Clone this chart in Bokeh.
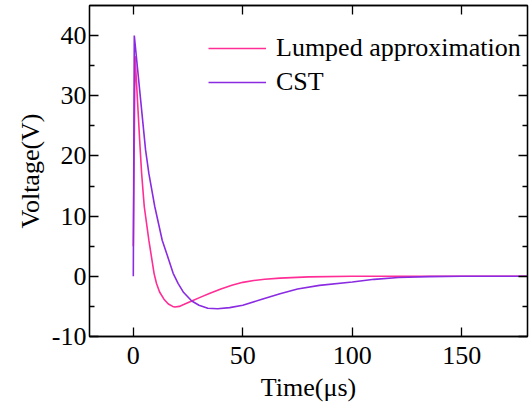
from bokeh.plotting import figure
from bokeh.models import Range1d, FixedTicker, LinearAxis, Legend, LegendItem
from bokeh.embed import file_html
from bokeh.resources import INLINE

# ---- data ----
lumped_t = [0, 0.8, 3.0, 3.8, 5.0, 7.1, 9.5, 10.6, 12, 14, 16, 18, 19, 21, 23, 26.7, 30.5, 35, 40, 45, 50, 55, 60, 67, 80, 100, 130, 180]
lumped_v = [5, 36.6, 22.0, 17.1, 11.6, 6.0, 0.45, -1.2, -2.6, -3.8, -4.6, -5.0, -5.1, -5.0, -4.7, -4.1, -3.5, -2.8, -2.1, -1.5, -1.0, -0.7, -0.5, -0.3, -0.1, 0.0, 0.0, 0.0]

cst_t = [0, 0.45, 5.6, 7.1, 9.8, 13.2, 15.5, 18.2, 20.5, 23, 26.7, 30, 34, 38.5, 44, 50, 58, 67, 75, 85, 100, 110, 121, 135, 150, 180]
cst_v = [0, 40.0, 21.0, 17.1, 11.6, 6.0, 3.5, 0.5, -1.2, -2.7, -4.1, -4.8, -5.3, -5.4, -5.2, -4.8, -3.9, -2.9, -2.1, -1.5, -0.95, -0.5, -0.2, -0.05, 0.0, 0.0]

x_ticks = [0, 50, 100, 150]
y_ticks = [-10, 0, 10, 20, 30, 40]
y_tick_labels = ["-10", "0", "10", "20", "30", "40"]
y_minor = [-5, 5, 15, 25, 35]

series_names = ["Lumped approximation", "CST"]
colors = ["#ff2d95", "#8a2be2"]

FONT = "Liberation Serif"
FS = "26px"

p = figure(width=530, height=408, output_backend="svg", toolbar_location=None,
           x_range=Range1d(-20, 180), y_range=Range1d(-10, 45),
           min_border_left=89, min_border_right=3, min_border_top=5, min_border_bottom=72)

p.grid.visible = False
p.outline_line_color = "black"
p.outline_line_width = 1.3
p.background_fill_color = "white"
p.border_fill_color = "white"

r1 = p.line(lumped_t, lumped_v, line_color=colors[0], line_width=1.6)
r2 = p.line(cst_t, cst_v, line_color=colors[1], line_width=1.6)

def style_axis(ax, show_labels):
    ax.axis_line_color = "black"
    ax.axis_line_width = 1.3
    ax.major_tick_in = 9
    ax.major_tick_out = 0
    ax.minor_tick_in = 5
    ax.minor_tick_out = 0
    ax.major_tick_line_color = "black"
    ax.minor_tick_line_color = "black"
    ax.major_tick_line_width = 1.3
    ax.minor_tick_line_width = 1.3
    if show_labels:
        ax.major_label_text_font = FONT
        ax.major_label_text_font_size = FS
        ax.major_label_text_color = "black"
        ax.axis_label_text_font = FONT
        ax.axis_label_text_font_size = FS
        ax.axis_label_text_font_style = "normal"
        ax.axis_label_text_color = "black"
    else:
        ax.major_label_text_color = None
        ax.major_label_standoff = 0
        ax.axis_label = None

xa = p.xaxis[0]
xa.ticker = FixedTicker(ticks=x_ticks, minor_ticks=[])
xa.axis_label = "Time(μs)"
style_axis(xa, True)
xa.major_label_standoff = 10
xa.axis_label_standoff = 6

ya = p.yaxis[0]
ya.ticker = FixedTicker(ticks=y_ticks, minor_ticks=y_minor)
ya.major_label_overrides = dict(zip(y_ticks, y_tick_labels))
ya.axis_label = "Voltage(V)"
style_axis(ya, True)
ya.major_label_standoff = 3
ya.axis_label_standoff = 4

top = LinearAxis(ticker=FixedTicker(ticks=x_ticks, minor_ticks=[]))
style_axis(top, False)
p.add_layout(top, "above")

right = LinearAxis(ticker=FixedTicker(ticks=y_ticks, minor_ticks=y_minor))
style_axis(right, False)
p.add_layout(right, "right")

legend = Legend(items=[LegendItem(label=series_names[0], renderers=[r1]),
                       LegendItem(label=series_names[1], renderers=[r2])],
                location=(119, 239))
legend.border_line_color = None
legend.background_fill_alpha = 0
legend.label_text_font = FONT
legend.label_text_font_size = FS
legend.label_text_color = "black"
legend.glyph_width = 58
legend.label_standoff = 10
legend.padding = 0
legend.margin = 0
legend.spacing = 4
p.add_layout(legend, "center")

open("out.html", "w").write(file_html(p, INLINE))
